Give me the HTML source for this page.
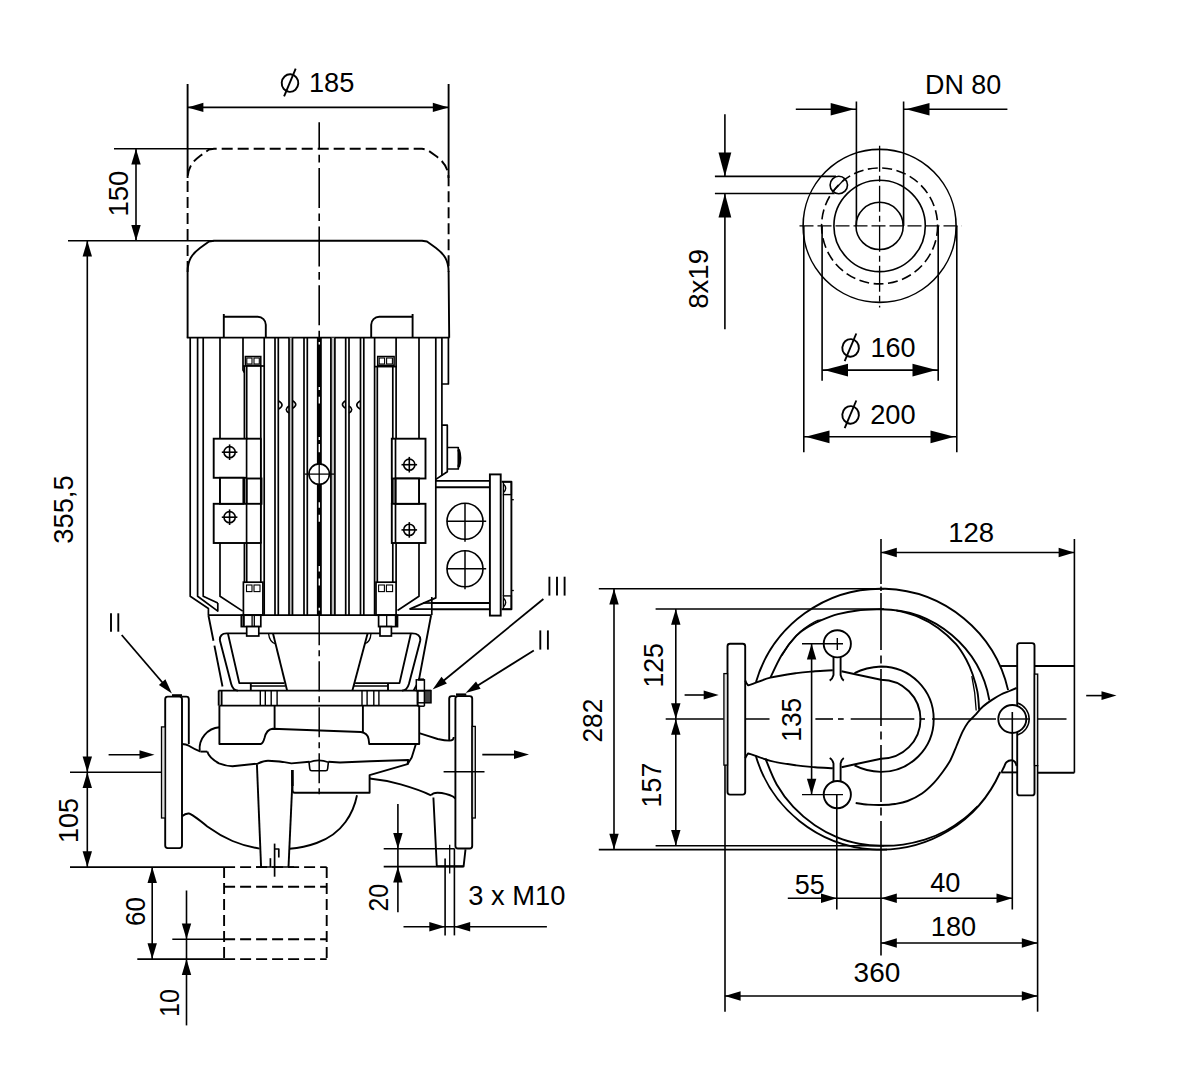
<!DOCTYPE html>
<html><head><meta charset="utf-8"><title>Pump dimension drawing</title>
<style>
html,body{margin:0;padding:0;background:#fff;}
body{width:1189px;height:1080px;overflow:hidden;}
svg{display:block;}
text{font-family:"Liberation Sans",sans-serif;fill:#000;}
</style></head><body>
<svg width="1189" height="1080" viewBox="0 0 1189 1080">
<rect width="1189" height="1080" fill="#fff"/>
<line x1="187.6" y1="84" x2="187.6" y2="178" stroke="#000" stroke-width="1.9"/>
<line x1="448.6" y1="84" x2="448.6" y2="178" stroke="#000" stroke-width="1.9"/>
<line x1="187.6" y1="107.4" x2="448.6" y2="107.4" stroke="#000" stroke-width="1.6"/>
<polygon points="187.6,107.4 203.4,102.7 203.4,112.1" fill="#000"/>
<polygon points="448.6,107.4 432.8,112.1 432.8,102.7" fill="#000"/>
<path d="M187.6 272 L187.6 180 C187.6 168 192 162 200 156 L209 149.6 L214 148.8 L422 148.8 L427 149.6 L436 156 C444 162 448.6 168 448.6 180 L448.6 272" fill="none" stroke="#000" stroke-width="1.9" stroke-linejoin="round" stroke-dasharray="11 5"/>
<line x1="114" y1="148.8" x2="212" y2="148.8" stroke="#000" stroke-width="1.6"/>
<line x1="68" y1="240.7" x2="214" y2="240.7" stroke="#000" stroke-width="1.6"/>
<line x1="136" y1="148.8" x2="136" y2="240.7" stroke="#000" stroke-width="1.6"/>
<polygon points="136,148.8 140.7,164.6 131.3,164.6" fill="#000"/>
<polygon points="136,240.7 131.3,224.9 140.7,224.9" fill="#000"/>
<path d="M187.6 337.7 L187.6 272 C187.6 260 192 254 200 248 L209 241.5 L214 240.7 L422 240.7 L427 241.5 L436 248 C444 254 448.6 260 448.6 272 L449.20000000000005 337.7" fill="none" stroke="#000" stroke-width="1.9" stroke-linejoin="round"/>
<line x1="186.8" y1="337.7" x2="449.4" y2="337.7" stroke="#000" stroke-width="1.8"/>
<path d="M223.8 337.7 L223.8 314 M223.8 316.8 L257.8 316.8 A8 8 0 0 1 265.8 324.8 L265.8 337.7" fill="none" stroke="#000" stroke-width="1.9" stroke-linejoin="round"/>
<path d="M412.6 337.7 L412.6 314 M412.6 316.8 L379.2 316.8 A8 8 0 0 0 371.2 324.8 L371.2 337.7" fill="none" stroke="#000" stroke-width="1.9" stroke-linejoin="round"/>
<line x1="87.3" y1="240.7" x2="87.3" y2="772.2" stroke="#000" stroke-width="1.6"/>
<polygon points="87.3,240.7 92,256.5 82.6,256.5" fill="#000"/>
<polygon points="87.3,772.2 82.6,756.4 92,756.4" fill="#000"/>
<line x1="70" y1="772.2" x2="161.9" y2="772.2" stroke="#000" stroke-width="1.6"/>
<line x1="87.3" y1="772.2" x2="87.3" y2="867.1" stroke="#000" stroke-width="1.6"/>
<polygon points="87.3,772.2 92,788 82.6,788" fill="#000"/>
<polygon points="87.3,867.1 82.6,851.3 92,851.3" fill="#000"/>
<line x1="70" y1="867.1" x2="224.1" y2="867.1" stroke="#000" stroke-width="1.6"/>
<rect x="289" y="337.7" width="3.5" height="277.50000000000006" fill="#bdbdbd"/>
<rect x="330.9" y="337.7" width="4" height="277.50000000000006" fill="#bdbdbd"/>
<line x1="275" y1="337.7" x2="275" y2="615.2" stroke="#000" stroke-width="1.7"/>
<line x1="278.3" y1="337.7" x2="278.3" y2="615.2" stroke="#000" stroke-width="1.7"/>
<line x1="289" y1="337.7" x2="289" y2="615.2" stroke="#000" stroke-width="1.7"/>
<line x1="292.5" y1="337.7" x2="292.5" y2="615.2" stroke="#000" stroke-width="1.7"/>
<line x1="304" y1="337.7" x2="304" y2="615.2" stroke="#000" stroke-width="1.7"/>
<line x1="307.3" y1="337.7" x2="307.3" y2="615.2" stroke="#000" stroke-width="1.7"/>
<line x1="330.9" y1="337.7" x2="330.9" y2="615.2" stroke="#000" stroke-width="1.7"/>
<line x1="334.9" y1="337.7" x2="334.9" y2="615.2" stroke="#000" stroke-width="1.7"/>
<line x1="345.7" y1="337.7" x2="345.7" y2="615.2" stroke="#000" stroke-width="1.7"/>
<line x1="349" y1="337.7" x2="349" y2="615.2" stroke="#000" stroke-width="1.7"/>
<line x1="360.5" y1="337.7" x2="360.5" y2="615.2" stroke="#000" stroke-width="1.7"/>
<line x1="363.8" y1="337.7" x2="363.8" y2="615.2" stroke="#000" stroke-width="1.7"/>
<rect x="316.9" y="337.7" width="4.9" height="277.50000000000006" fill="#000"/>
<line x1="319.3" y1="342" x2="319.3" y2="344.5" stroke="#fff" stroke-width="1.4"/>
<line x1="319.3" y1="387" x2="319.3" y2="390" stroke="#fff" stroke-width="1.4"/>
<line x1="319.3" y1="396.7" x2="319.3" y2="403.6" stroke="#fff" stroke-width="1.4"/>
<line x1="319.3" y1="437" x2="319.3" y2="440" stroke="#fff" stroke-width="1.4"/>
<line x1="319.3" y1="444" x2="319.3" y2="452.2" stroke="#fff" stroke-width="1.4"/>
<line x1="319.3" y1="502.2" x2="319.3" y2="507.8" stroke="#fff" stroke-width="1.4"/>
<line x1="319.3" y1="514.7" x2="319.3" y2="521.7" stroke="#fff" stroke-width="1.4"/>
<line x1="319.3" y1="566" x2="319.3" y2="571.6" stroke="#fff" stroke-width="1.4"/>
<line x1="319.3" y1="578.6" x2="319.3" y2="585.5" stroke="#fff" stroke-width="1.4"/>
<line x1="319.3" y1="607.8" x2="319.3" y2="610.5" stroke="#fff" stroke-width="1.4"/>
<path d="M278.3 400.8 q7.5 4.2 0 8.4" fill="none" stroke="#000" stroke-width="1.6" stroke-linejoin="round"/>
<path d="M292.5 400.8 q6.5 3.8 0 7.6" fill="none" stroke="#000" stroke-width="1.6" stroke-linejoin="round"/>
<path d="M289 406 q-5.5 3.6 0 7.2" fill="none" stroke="#000" stroke-width="1.6" stroke-linejoin="round"/>
<path d="M360.5 400.8 q-7.5 4.2 0 8.4" fill="none" stroke="#000" stroke-width="1.6" stroke-linejoin="round"/>
<path d="M345.7 400.8 q-6.5 3.8 0 7.6" fill="none" stroke="#000" stroke-width="1.6" stroke-linejoin="round"/>
<path d="M349 406 q5.5 3.6 0 7.2" fill="none" stroke="#000" stroke-width="1.6" stroke-linejoin="round"/>
<path d="M190.2 337.7 L190.2 596.3 L208.4 608.5 L208.4 615.2" fill="none" stroke="#000" stroke-width="1.7" stroke-linejoin="round"/>
<path d="M197.6 337.7 L197.6 596.3 L217.8 611.1 L217.8 603.1" fill="none" stroke="#000" stroke-width="1.7" stroke-linejoin="round"/>
<path d="M203.2 337.7 L203.2 596.3 L217.8 603.1" fill="none" stroke="#000" stroke-width="1.7" stroke-linejoin="round"/>
<path d="M220 337.7 L220 596.3 L242.7 611.1" fill="none" stroke="#000" stroke-width="1.7" stroke-linejoin="round"/>
<path d="M243 337.7 L243 370 L244.4 372.5" fill="none" stroke="#000" stroke-width="1.7" stroke-linejoin="round"/>
<line x1="244.4" y1="366" x2="244.4" y2="582.2" stroke="#000" stroke-width="1.7"/>
<line x1="246.7" y1="366" x2="246.7" y2="582.2" stroke="#000" stroke-width="1.7"/>
<line x1="260.8" y1="366" x2="260.8" y2="582.2" stroke="#000" stroke-width="1.7"/>
<line x1="264.2" y1="337.7" x2="264.2" y2="615.2" stroke="#000" stroke-width="1.7"/>
<line x1="243" y1="366" x2="264.2" y2="366" stroke="#000" stroke-width="1.7"/>
<rect x="245.4" y="356.5" width="15.4" height="8.8" rx="0" fill="#fff" stroke="#000" stroke-width="1.5"/>
<rect x="246.8" y="358" width="5.2" height="6" rx="0" fill="none" stroke="#000" stroke-width="1.1"/>
<rect x="254" y="358" width="5.3" height="6" rx="0" fill="none" stroke="#000" stroke-width="1.1"/>
<line x1="374.6" y1="337.7" x2="374.6" y2="615.2" stroke="#000" stroke-width="1.7"/>
<line x1="377.3" y1="366.6" x2="377.3" y2="582.2" stroke="#000" stroke-width="1.7"/>
<line x1="392.8" y1="366.6" x2="392.8" y2="582.2" stroke="#000" stroke-width="1.7"/>
<line x1="396.1" y1="337.7" x2="396.1" y2="582.2" stroke="#000" stroke-width="1.7"/>
<line x1="374.6" y1="366.6" x2="397" y2="366.6" stroke="#000" stroke-width="1.7"/>
<rect x="377.7" y="356.5" width="16.4" height="8.8" rx="0" fill="#fff" stroke="#000" stroke-width="1.5"/>
<rect x="379.2" y="358" width="5.4" height="6" rx="0" fill="none" stroke="#000" stroke-width="1.1"/>
<rect x="386.6" y="358" width="5.8" height="6" rx="0" fill="none" stroke="#000" stroke-width="1.1"/>
<path d="M419 337.7 L419 596.3 L397.5 610.5" fill="none" stroke="#000" stroke-width="1.7" stroke-linejoin="round"/>
<path d="M435.8 337.7 L435.8 597.9 L409.6 609.1" fill="none" stroke="#000" stroke-width="1.7" stroke-linejoin="round"/>
<line x1="441.9" y1="337.7" x2="441.9" y2="476" stroke="#000" stroke-width="1.7"/>
<path d="M448.4 337.7 L448.4 384 L441.9 384 M441.9 425.2 L447.3 425.2 L447.3 471.7 L435.8 479.4" fill="none" stroke="#000" stroke-width="1.7" stroke-linejoin="round"/>
<path d="M447.3 447.5 L458.3 447.5 L458.3 469 L447.3 469" fill="none" stroke="#000" stroke-width="1.7" stroke-linejoin="round"/>
<path d="M458.6 449.5 Q461.6 458 458.6 467" fill="none" stroke="#000" stroke-width="2.6" stroke-linejoin="round"/>
<rect x="213.7" y="438.7" width="33" height="39.1" rx="0" fill="#fff" stroke="#000" stroke-width="1.9"/>
<rect x="213.7" y="503.8" width="33" height="39.2" rx="0" fill="#fff" stroke="#000" stroke-width="1.9"/>
<rect x="220" y="477.8" width="23.4" height="26" rx="0" fill="#fff" stroke="#000" stroke-width="1.9"/>
<rect x="247.5" y="439.5" width="12.6" height="103" fill="#fff"/>
<line x1="246.7" y1="438.7" x2="261.5" y2="438.7" stroke="#000" stroke-width="1.9"/>
<line x1="246.7" y1="543" x2="261.5" y2="543" stroke="#000" stroke-width="1.9"/>
<rect x="246.7" y="478.5" width="14.8" height="25.3" rx="0" fill="none" stroke="#000" stroke-width="1.9"/>
<line x1="260.8" y1="438.7" x2="260.8" y2="543" stroke="#000" stroke-width="1.7"/>
<circle cx="229.6" cy="452.2" r="5.6" fill="none" stroke="#000" stroke-width="1.6"/>
<line x1="221.8" y1="452.2" x2="237.4" y2="452.2" stroke="#000" stroke-width="1.6"/>
<line x1="229.6" y1="444.4" x2="229.6" y2="460" stroke="#000" stroke-width="1.6"/>
<circle cx="229.6" cy="517.2" r="5.6" fill="none" stroke="#000" stroke-width="1.6"/>
<line x1="221.8" y1="517.2" x2="237.4" y2="517.2" stroke="#000" stroke-width="1.6"/>
<line x1="229.6" y1="509.4" x2="229.6" y2="525" stroke="#000" stroke-width="1.6"/>
<rect x="391.8" y="438.7" width="33.7" height="39.8" rx="0" fill="#fff" stroke="#000" stroke-width="1.9"/>
<rect x="391.8" y="503.8" width="33.7" height="39.2" rx="0" fill="#fff" stroke="#000" stroke-width="1.9"/>
<rect x="395.5" y="478.5" width="23.5" height="25.3" rx="0" fill="#fff" stroke="#000" stroke-width="1.9"/>
<line x1="395.5" y1="438.7" x2="395.5" y2="543" stroke="#000" stroke-width="1.7"/>
<line x1="391.8" y1="478.5" x2="391.8" y2="503.8" stroke="#000" stroke-width="1.7"/>
<circle cx="409.3" cy="464.7" r="5.6" fill="none" stroke="#000" stroke-width="1.6"/>
<line x1="401.5" y1="464.7" x2="417.1" y2="464.7" stroke="#000" stroke-width="1.6"/>
<line x1="409.3" y1="456.9" x2="409.3" y2="472.5" stroke="#000" stroke-width="1.6"/>
<circle cx="409.3" cy="529.9" r="5.6" fill="none" stroke="#000" stroke-width="1.6"/>
<line x1="401.5" y1="529.9" x2="417.1" y2="529.9" stroke="#000" stroke-width="1.6"/>
<line x1="409.3" y1="522.1" x2="409.3" y2="537.7" stroke="#000" stroke-width="1.6"/>
<circle cx="319.2" cy="474.1" r="10.2" fill="#fff" stroke="#000" stroke-width="1.6"/>
<line x1="304.6" y1="474.1" x2="334.2" y2="474.1" stroke="#000" stroke-width="1.3"/>
<line x1="319.2" y1="464" x2="319.2" y2="484" stroke="#000" stroke-width="1.3"/>
<line x1="435.8" y1="480.9" x2="489.9" y2="480.9" stroke="#000" stroke-width="1.9"/>
<line x1="435.8" y1="487.2" x2="489.9" y2="487.2" stroke="#000" stroke-width="1.9"/>
<line x1="431.6" y1="603" x2="489.9" y2="603" stroke="#000" stroke-width="1.9"/>
<line x1="431.6" y1="609.3" x2="489.9" y2="609.3" stroke="#000" stroke-width="1.9"/>
<rect x="489.9" y="474.4" width="10.8" height="141.2" rx="0" fill="#fff" stroke="#000" stroke-width="1.9"/>
<path d="M501.6 481.8 L511.4 481.8 L511.4 609.3 L501.6 609.3" fill="none" stroke="#000" stroke-width="1.9" stroke-linejoin="round"/>
<line x1="503.4" y1="494.6" x2="503.4" y2="595.9" stroke="#000" stroke-width="1.4"/>
<rect x="503.4" y="481.8" width="8" height="12.8" rx="0" fill="none" stroke="#000" stroke-width="1.4"/>
<rect x="503.4" y="595.9" width="8" height="13.4" rx="0" fill="none" stroke="#000" stroke-width="1.4"/>
<path d="M503.4 484 Q508 488 503.4 492.5" fill="none" stroke="#000" stroke-width="1.4" stroke-linejoin="round"/>
<path d="M503.4 598 Q508 602.5 503.4 607" fill="none" stroke="#000" stroke-width="1.4" stroke-linejoin="round"/>
<line x1="511.4" y1="499.7" x2="513.8" y2="499.7" stroke="#000" stroke-width="1.3"/>
<line x1="511.4" y1="590.5" x2="513.8" y2="590.5" stroke="#000" stroke-width="1.3"/>
<circle cx="465" cy="521.3" r="18" fill="none" stroke="#000" stroke-width="1.6"/>
<line x1="446.8" y1="521.3" x2="486.2" y2="521.3" stroke="#000" stroke-width="1.5"/>
<line x1="465" y1="503.3" x2="465" y2="541.8" stroke="#000" stroke-width="1.5"/>
<circle cx="465" cy="568.8" r="18" fill="none" stroke="#000" stroke-width="1.6"/>
<line x1="446.8" y1="568.8" x2="486.2" y2="568.8" stroke="#000" stroke-width="1.5"/>
<line x1="465" y1="550.8" x2="465" y2="589.3" stroke="#000" stroke-width="1.5"/>
<line x1="409.6" y1="609.1" x2="431.6" y2="609.1" stroke="#000" stroke-width="1.7"/>
<line x1="423" y1="603" x2="431.6" y2="603" stroke="#000" stroke-width="1.7"/>
<line x1="431.8" y1="597" x2="431.8" y2="615.2" stroke="#000" stroke-width="1.7"/>
<rect x="243.4" y="582.2" width="19.5" height="33" rx="0" fill="#fff" stroke="#000" stroke-width="1.7"/>
<rect x="246.5" y="585" width="5.5" height="6.6" rx="0" fill="none" stroke="#000" stroke-width="1.1"/>
<rect x="254" y="585" width="6" height="6.6" rx="0" fill="none" stroke="#000" stroke-width="1.1"/>
<rect x="376" y="582.2" width="20.1" height="33" rx="0" fill="#fff" stroke="#000" stroke-width="1.7"/>
<rect x="378.6" y="585" width="5.8" height="6.6" rx="0" fill="none" stroke="#000" stroke-width="1.1"/>
<rect x="386.4" y="585" width="6.2" height="6.6" rx="0" fill="none" stroke="#000" stroke-width="1.1"/>
<line x1="208.4" y1="615.2" x2="431.1" y2="615.2" stroke="#000" stroke-width="1.7"/>
<path d="M208.4 615.2 L222.5 686.5" fill="none" stroke="#000" stroke-width="1.9" stroke-linejoin="round" stroke-dasharray="26 5 50"/>
<path d="M431.1 615.2 L418.7 681.1 L413.6 690.6" fill="none" stroke="#000" stroke-width="1.9" stroke-linejoin="round"/>
<path d="M219.8 640 Q219.8 633.4 226.5 633.4 L412 633.4 Q420.4 633.4 420.4 640" fill="none" stroke="#000" stroke-width="1.9" stroke-linejoin="round"/>
<path d="M219.8 640 L231.2 684 Q233 690.6 238 690.6" fill="none" stroke="#000" stroke-width="1.9" stroke-linejoin="round"/>
<path d="M227.9 633.4 L239.3 683.1 L284.4 683.1" fill="none" stroke="#000" stroke-width="1.9" stroke-linejoin="round"/>
<path d="M273 633.4 L287.1 690.6" fill="none" stroke="#000" stroke-width="1.9" stroke-linejoin="round"/>
<path d="M268.5 633.4 Q269.5 642 275.5 644" fill="none" stroke="#000" stroke-width="1.3" stroke-linejoin="round"/>
<line x1="250.8" y1="683.1" x2="250.8" y2="690.6" stroke="#000" stroke-width="1.9"/>
<line x1="250.8" y1="686" x2="285" y2="686" stroke="#000" stroke-width="1.3"/>
<path d="M420.4 640 L408.9 684 Q407 690.6 402 690.6" fill="none" stroke="#000" stroke-width="1.9" stroke-linejoin="round"/>
<path d="M410.9 633.4 L399.5 683.1 L355.1 683.1" fill="none" stroke="#000" stroke-width="1.9" stroke-linejoin="round"/>
<path d="M367.6 633.4 L352.4 690.6" fill="none" stroke="#000" stroke-width="1.9" stroke-linejoin="round"/>
<path d="M371 633.4 Q370.5 642 364.5 644" fill="none" stroke="#000" stroke-width="1.3" stroke-linejoin="round"/>
<line x1="388" y1="683.1" x2="388" y2="690.6" stroke="#000" stroke-width="1.9"/>
<line x1="354" y1="686" x2="388" y2="686" stroke="#000" stroke-width="1.3"/>
<rect x="241.3" y="615.2" width="19.5" height="11.4" rx="0" fill="#fff" stroke="#000" stroke-width="1.7"/>
<line x1="243.6" y1="615.2" x2="243.6" y2="626.6" stroke="#000" stroke-width="2.4"/>
<line x1="252.1" y1="615.2" x2="252.1" y2="626.6" stroke="#000" stroke-width="1.3"/>
<line x1="254.3" y1="615.2" x2="254.3" y2="626.6" stroke="#000" stroke-width="1.3"/>
<rect x="246.7" y="626.6" width="12.1" height="9.4" rx="0" fill="#fff" stroke="#000" stroke-width="1.7"/>
<rect x="378.6" y="615.2" width="18.9" height="11.4" rx="0" fill="#fff" stroke="#000" stroke-width="1.7"/>
<line x1="396" y1="615.2" x2="396" y2="626.6" stroke="#000" stroke-width="2.4"/>
<line x1="386.7" y1="615.2" x2="386.7" y2="626.6" stroke="#000" stroke-width="1.3"/>
<rect x="380" y="626.6" width="11.4" height="9.4" rx="0" fill="#fff" stroke="#000" stroke-width="1.7"/>
<line x1="218.5" y1="690.6" x2="431.1" y2="690.6" stroke="#000" stroke-width="1.7"/>
<line x1="219.4" y1="705.7" x2="419.2" y2="705.7" stroke="#000" stroke-width="1.7"/>
<line x1="218.7" y1="690.6" x2="218.7" y2="705.7" stroke="#000" stroke-width="1.9"/>
<line x1="221.6" y1="690.6" x2="221.6" y2="705.7" stroke="#000" stroke-width="1.9"/>
<line x1="260.3" y1="690.6" x2="260.3" y2="705.7" stroke="#000" stroke-width="1.4"/>
<line x1="265.3" y1="690.6" x2="265.3" y2="705.7" stroke="#000" stroke-width="1.4"/>
<line x1="271.2" y1="690.6" x2="271.2" y2="705.7" stroke="#000" stroke-width="1.4"/>
<line x1="277.1" y1="690.6" x2="277.1" y2="705.7" stroke="#000" stroke-width="1.4"/>
<line x1="362" y1="690.6" x2="362" y2="705.7" stroke="#000" stroke-width="1.4"/>
<line x1="367.1" y1="690.6" x2="367.1" y2="705.7" stroke="#000" stroke-width="1.4"/>
<line x1="373.8" y1="690.6" x2="373.8" y2="705.7" stroke="#000" stroke-width="1.4"/>
<line x1="378.9" y1="690.6" x2="378.9" y2="705.7" stroke="#000" stroke-width="1.4"/>
<line x1="417.6" y1="690.6" x2="417.6" y2="705.7" stroke="#000" stroke-width="1.9"/>
<rect x="416.3" y="679.8" width="8.1" height="10.8" rx="0" fill="#fff" stroke="#000" stroke-width="1.5"/>
<line x1="418" y1="679.5" x2="424" y2="679.5" stroke="#000" stroke-width="2.2"/>
<rect x="424.4" y="690.6" width="6.6" height="12.2" fill="#444"/>
<rect x="417.6" y="690.6" width="13.4" height="12.2" rx="0" fill="none" stroke="#000" stroke-width="1.5"/>
<line x1="424.4" y1="690.6" x2="424.4" y2="706.2" stroke="#000" stroke-width="1.5"/>
<line x1="417.6" y1="706.2" x2="424.4" y2="706.2" stroke="#000" stroke-width="1.5"/>
<path d="M219.4 705.7 L219.4 744 L260.8 744 Q263 743.5 264.5 738 Q266.5 729.5 272.5 728.8 L361 732 Q367.5 733 368.6 739 L369.2 744 L419.2 744 L419.2 705.7" fill="none" stroke="#000" stroke-width="1.9" stroke-linejoin="round"/>
<line x1="274.6" y1="705.7" x2="274.6" y2="729" stroke="#000" stroke-width="1.9"/>
<line x1="362.9" y1="705.7" x2="362.9" y2="732.2" stroke="#000" stroke-width="1.9"/>
<rect x="165.2" y="696.6" width="16.8" height="151.5" rx="2.5" fill="#fff" stroke="#000" stroke-width="1.9"/>
<path d="M182 696.6 L186.3 696.6 Q188.8 696.6 188.8 699 L188.8 744" fill="none" stroke="#000" stroke-width="1.9" stroke-linejoin="round"/>
<rect x="161.5" y="726.9" width="3.7" height="91.1" rx="0" fill="#ddd" stroke="#000" stroke-width="1.3"/>
<line x1="172" y1="695.4" x2="182" y2="695.4" stroke="#000" stroke-width="2.4"/>
<path d="M182 744 Q186 744.3 188.8 745.7 Q195 749.5 200.6 751.6" fill="none" stroke="#000" stroke-width="1.9" stroke-linejoin="round"/>
<line x1="200.6" y1="751.6" x2="207.3" y2="751.6" stroke="#000" stroke-width="1.9"/>
<path d="M207.3 751.6 Q209 758 219 763.4 Q226 766.2 232.5 766.2 L257.7 763.6 Q264 760.8 268 760.8 Q280 761 291.4 763.4 L309.5 761.7" fill="none" stroke="#000" stroke-width="1.9" stroke-linejoin="round"/>
<path d="M219.4 727.2 A21.5 21.5 0 0 0 199.7 750.7" fill="none" stroke="#000" stroke-width="1.9" stroke-linejoin="round"/>
<path d="M309 762.2 Q318.7 758.6 328.4 762.2 L327.6 769 Q327.4 770.8 325.6 770.8 L311.8 770.8 Q310 770.8 309.8 769 Z" fill="#fff" stroke="#000" stroke-width="1.6" stroke-linejoin="round"/>
<path d="M328.4 761.7 L340 762.5 L370 761.2 L408.3 760 L407.5 764.2 L369.6 775.1 L369.6 792.8 L294.8 792.8 Q292.5 792.8 292.5 790 L292.2 770" fill="none" stroke="#000" stroke-width="1.9" stroke-linejoin="round"/>
<line x1="292.4" y1="770" x2="292.4" y2="786" stroke="#000" stroke-width="2.6"/>
<path d="M415.9 744 L411.7 757.5 L407.5 764.2" fill="none" stroke="#000" stroke-width="1.9" stroke-linejoin="round"/>
<path d="M369.6 778.5 Q385 780 400.7 784.4 Q420 790 431 795.3" fill="none" stroke="#000" stroke-width="1.9" stroke-linejoin="round"/>
<path d="M419.2 733.1 Q430 736.5 437.7 739 Q445 740.6 449.5 740.6 Q453.7 740.6 453.7 737" fill="none" stroke="#000" stroke-width="1.9" stroke-linejoin="round"/>
<path d="M182 816.3 Q185.5 813.2 188.8 813.5 Q192 814 207.3 826.4 Q220 835.5 232.5 841 Q245 846.3 259.6 848.6" fill="none" stroke="#000" stroke-width="1.9" stroke-linejoin="round"/>
<path d="M289.6 848.8 Q304 847.6 316.6 843 Q335 836.5 345.5 822 Q354 810.5 357 795.3" fill="none" stroke="#000" stroke-width="1.9" stroke-linejoin="round"/>
<path d="M256.9 764.2 L261.1 867.1" fill="none" stroke="#000" stroke-width="1.9" stroke-linejoin="round"/>
<path d="M292.2 786 L288.5 867.1" fill="none" stroke="#000" stroke-width="1.9" stroke-linejoin="round"/>
<line x1="274.6" y1="843.6" x2="274.6" y2="876.7" stroke="#000" stroke-width="1.7"/>
<path d="M274.6 849 L278.8 849 L278.8 857.4" fill="none" stroke="#000" stroke-width="1.7" stroke-linejoin="round"/>
<line x1="270.4" y1="858.2" x2="270.4" y2="867.1" stroke="#000" stroke-width="1.7"/>
<line x1="256" y1="867.1" x2="294" y2="867.1" stroke="#000" stroke-width="1.5"/>
<line x1="319.2" y1="122.2" x2="319.2" y2="337" stroke="#000" stroke-width="1.6" stroke-dasharray="40 5.5 7.7 5.5" stroke-dashoffset="13"/>
<line x1="319.2" y1="615.2" x2="319.2" y2="798" stroke="#000" stroke-width="1.5" stroke-dasharray="30 5 6 5"/>
<rect x="455.4" y="696.1" width="16.8" height="152.4" rx="2.5" fill="#fff" stroke="#000" stroke-width="1.9"/>
<path d="M455.4 696.1 L451.7 696.1 Q449.2 696.1 449.2 698.6 L449.2 740" fill="none" stroke="#000" stroke-width="1.9" stroke-linejoin="round"/>
<rect x="472.2" y="726.4" width="3.1" height="91.6" rx="0" fill="#ddd" stroke="#000" stroke-width="1.3"/>
<line x1="456" y1="694.6" x2="466.3" y2="694.6" stroke="#000" stroke-width="2.4"/>
<line x1="443.6" y1="771.8" x2="484.5" y2="771.8" stroke="#000" stroke-width="1.6"/>
<path d="M431 795.3 Q433 792.6 437.7 792.7 Q446 793 453 796.5 L455.4 798.5" fill="none" stroke="#000" stroke-width="1.9" stroke-linejoin="round"/>
<path d="M433.4 797.5 L436.8 866.3 L463.6 866.3 L465.5 849.4" fill="none" stroke="#000" stroke-width="1.9" stroke-linejoin="round"/>
<line x1="108.6" y1="754.7" x2="142" y2="754.7" stroke="#000" stroke-width="1.6"/>
<polygon points="154.5,754.7 139.5,759.1 139.5,750.3" fill="#000"/>
<line x1="482.3" y1="754.6" x2="516" y2="754.6" stroke="#000" stroke-width="1.6"/>
<polygon points="529,754.6 514,759 514,750.2" fill="#000"/>
<line x1="224.1" y1="867.1" x2="326.7" y2="867.1" stroke="#000" stroke-width="1.9" stroke-dasharray="11 5"/>
<line x1="224.1" y1="867.1" x2="224.1" y2="959.1" stroke="#000" stroke-width="1.9" stroke-dasharray="11 5"/>
<line x1="326.7" y1="867.1" x2="326.7" y2="959.1" stroke="#000" stroke-width="1.9" stroke-dasharray="11 5"/>
<line x1="224.1" y1="886.8" x2="326.7" y2="886.8" stroke="#000" stroke-width="1.9" stroke-dasharray="11 5"/>
<line x1="224.1" y1="939.2" x2="326.7" y2="939.2" stroke="#000" stroke-width="1.9" stroke-dasharray="11 5"/>
<line x1="224.1" y1="959.1" x2="326.7" y2="959.1" stroke="#000" stroke-width="1.9" stroke-dasharray="11 5"/>
<line x1="152.2" y1="867.1" x2="152.2" y2="959.1" stroke="#000" stroke-width="1.6"/>
<polygon points="152.2,867.1 156.9,882.9 147.5,882.9" fill="#000"/>
<polygon points="152.2,959.1 147.5,943.3 156.9,943.3" fill="#000"/>
<line x1="137.3" y1="959.1" x2="224.1" y2="959.1" stroke="#000" stroke-width="1.6"/>
<line x1="172.3" y1="939.2" x2="224.1" y2="939.2" stroke="#000" stroke-width="1.6"/>
<line x1="186.5" y1="890.5" x2="186.5" y2="1025.4" stroke="#000" stroke-width="1.6"/>
<polygon points="186.5,939.2 181.8,923.4 191.2,923.4" fill="#000"/>
<polygon points="186.5,959.1 191.2,974.9 181.8,974.9" fill="#000"/>
<line x1="383.7" y1="848.8" x2="454.4" y2="848.8" stroke="#000" stroke-width="1.6"/>
<line x1="383.7" y1="866.6" x2="463.6" y2="866.6" stroke="#000" stroke-width="1.6"/>
<line x1="397.9" y1="804" x2="397.9" y2="912.3" stroke="#000" stroke-width="1.6"/>
<polygon points="397.9,848.8 393.2,833 402.6,833" fill="#000"/>
<polygon points="397.9,866.6 402.6,882.4 393.2,882.4" fill="#000"/>
<line x1="445.1" y1="858.6" x2="445.1" y2="935.4" stroke="#000" stroke-width="1.6"/>
<line x1="454.4" y1="848.5" x2="454.4" y2="935.4" stroke="#000" stroke-width="1.6"/>
<line x1="449.7" y1="844.8" x2="449.7" y2="873.4" stroke="#000" stroke-width="1.3"/>
<line x1="403.5" y1="926.7" x2="546.9" y2="926.7" stroke="#000" stroke-width="1.6"/>
<polygon points="445.1,926.7 429.3,931.4 429.3,922" fill="#000"/>
<polygon points="454.4,926.7 470.2,922 470.2,931.4" fill="#000"/>
<line x1="111" y1="613.3" x2="111" y2="631.7" stroke="#000" stroke-width="1.9"/>
<line x1="118.3" y1="613.3" x2="118.3" y2="631.7" stroke="#000" stroke-width="1.9"/>
<line x1="121.7" y1="635" x2="168" y2="689" stroke="#000" stroke-width="1.8"/>
<polygon points="171.9,693.5 158.9,684.9 165.4,679.3" fill="#000"/>
<line x1="549.4" y1="576.7" x2="549.4" y2="595.6" stroke="#000" stroke-width="1.9"/>
<line x1="557" y1="576.7" x2="557" y2="595.6" stroke="#000" stroke-width="1.9"/>
<line x1="564.6" y1="576.7" x2="564.6" y2="595.6" stroke="#000" stroke-width="1.9"/>
<line x1="543.4" y1="599" x2="438" y2="685.2" stroke="#000" stroke-width="1.8"/>
<polygon points="432.6,689.6 441.5,676.8 446.9,683.4" fill="#000"/>
<line x1="540.3" y1="630.4" x2="540.3" y2="649.6" stroke="#000" stroke-width="1.9"/>
<line x1="547.9" y1="630.4" x2="547.9" y2="649.6" stroke="#000" stroke-width="1.9"/>
<line x1="533.8" y1="650.5" x2="471" y2="689.8" stroke="#000" stroke-width="1.8"/>
<polygon points="465.6,693 476,681.4 480.6,688.7" fill="#000"/>
<circle cx="879.6" cy="225.9" r="76.5" fill="none" stroke="#000" stroke-width="1.6"/>
<circle cx="879.6" cy="225.9" r="58" fill="none" stroke="#000" stroke-width="1.6" stroke-dasharray="10 4.5"/>
<circle cx="879.6" cy="225.9" r="45.7" fill="none" stroke="#000" stroke-width="1.6"/>
<circle cx="879.6" cy="225.9" r="23.6" fill="none" stroke="#000" stroke-width="1.6"/>
<circle cx="838.8" cy="185" r="8.7" fill="none" stroke="#000" stroke-width="1.6"/>
<line x1="833" y1="191.5" x2="845" y2="178.5" stroke="#000" stroke-width="1.2"/>
<line x1="799.5" y1="225.9" x2="961.7" y2="225.9" stroke="#000" stroke-width="1.3" stroke-dasharray="14 4"/>
<line x1="879.6" y1="145.8" x2="879.6" y2="307.4" stroke="#000" stroke-width="1.3" stroke-dasharray="26 4 6 4"/>
<line x1="856.4" y1="101.5" x2="856.4" y2="225.9" stroke="#000" stroke-width="1.6"/>
<line x1="903.6" y1="101.5" x2="903.6" y2="225.9" stroke="#000" stroke-width="1.6"/>
<line x1="795.8" y1="109.2" x2="856.4" y2="109.2" stroke="#000" stroke-width="1.6"/>
<line x1="903.6" y1="109.2" x2="1007.4" y2="109.2" stroke="#000" stroke-width="1.6"/>
<polygon points="854.2,109.2 830.7,115.5 830.7,102.9" fill="#000"/>
<polygon points="906,109.2 929.5,102.9 929.5,115.5" fill="#000"/>
<line x1="714.9" y1="176.4" x2="836" y2="176.4" stroke="#000" stroke-width="1.6"/>
<line x1="714.9" y1="193.5" x2="834.6" y2="193.5" stroke="#000" stroke-width="1.6"/>
<line x1="724.9" y1="114.3" x2="724.9" y2="176.4" stroke="#000" stroke-width="1.6"/>
<line x1="724.9" y1="193.5" x2="724.9" y2="329.2" stroke="#000" stroke-width="1.6"/>
<polygon points="724.9,176.4 718.5,152.4 731.3,152.4" fill="#000"/>
<polygon points="724.9,193.5 731.3,217.5 718.5,217.5" fill="#000"/>
<line x1="822.1" y1="225.9" x2="822.1" y2="380.7" stroke="#000" stroke-width="1.6"/>
<line x1="938.2" y1="225.9" x2="938.2" y2="380.7" stroke="#000" stroke-width="1.6"/>
<line x1="803.8" y1="225.9" x2="803.8" y2="452.2" stroke="#000" stroke-width="1.6"/>
<line x1="956.8" y1="225.9" x2="956.8" y2="452.2" stroke="#000" stroke-width="1.6"/>
<line x1="822.1" y1="370.1" x2="938.2" y2="370.1" stroke="#000" stroke-width="1.6"/>
<polygon points="824,370.1 848,363.7 848,376.5" fill="#000"/>
<polygon points="936.5,370.1 912.5,376.5 912.5,363.7" fill="#000"/>
<line x1="803.8" y1="436.8" x2="956.8" y2="436.8" stroke="#000" stroke-width="1.6"/>
<polygon points="805.5,436.8 829.5,430.4 829.5,443.2" fill="#000"/>
<polygon points="954.5,436.8 930.5,443.2 930.5,430.4" fill="#000"/>
<line x1="598.8" y1="588.8" x2="884" y2="588.8" stroke="#000" stroke-width="1.6"/>
<line x1="655.6" y1="609" x2="884" y2="609" stroke="#000" stroke-width="1.6"/>
<line x1="655.6" y1="845.8" x2="884" y2="845.8" stroke="#000" stroke-width="1.6"/>
<line x1="598.8" y1="849.6" x2="887" y2="849.6" stroke="#000" stroke-width="1.6"/>
<line x1="614" y1="588.8" x2="614" y2="849.6" stroke="#000" stroke-width="1.6"/>
<polygon points="614,588.8 618.7,604.6 609.3,604.6" fill="#000"/>
<polygon points="614,849.6 609.3,833.8 618.7,833.8" fill="#000"/>
<line x1="675.8" y1="609" x2="675.8" y2="719" stroke="#000" stroke-width="1.6"/>
<polygon points="675.8,609 680.5,624.8 671.1,624.8" fill="#000"/>
<polygon points="675.8,719 671.1,703.2 680.5,703.2" fill="#000"/>
<line x1="675.8" y1="719" x2="675.8" y2="845.8" stroke="#000" stroke-width="1.6"/>
<polygon points="675.8,719 680.5,734.8 671.1,734.8" fill="#000"/>
<polygon points="675.8,845.8 671.1,830 680.5,830" fill="#000"/>
<line x1="665.7" y1="719" x2="723.7" y2="719" stroke="#000" stroke-width="1.6"/>
<line x1="881" y1="539" x2="881" y2="584" stroke="#000" stroke-width="1.6"/>
<line x1="881" y1="586.5" x2="881" y2="591" stroke="#000" stroke-width="1.6"/>
<line x1="881" y1="593" x2="881" y2="872" stroke="#000" stroke-width="1.6" stroke-dasharray="57 5.5 8 5.5"/>
<line x1="881" y1="872" x2="881" y2="955.6" stroke="#000" stroke-width="1.6"/>
<line x1="1074.4" y1="539" x2="1074.4" y2="772.7" stroke="#000" stroke-width="1.6"/>
<line x1="881" y1="552.5" x2="1074.4" y2="552.5" stroke="#000" stroke-width="1.6"/>
<polygon points="881,552.5 896.8,547.8 896.8,557.2" fill="#000"/>
<polygon points="1074.4,552.5 1058.6,557.2 1058.6,547.8" fill="#000"/>
<line x1="730.6" y1="719" x2="769.5" y2="719" stroke="#000" stroke-width="1.6"/>
<line x1="815.4" y1="719" x2="833" y2="719" stroke="#000" stroke-width="1.6"/>
<line x1="838" y1="719" x2="843.7" y2="719" stroke="#000" stroke-width="1.6"/>
<line x1="850.7" y1="719" x2="914.3" y2="719" stroke="#000" stroke-width="1.6"/>
<line x1="919.6" y1="719" x2="925" y2="719" stroke="#000" stroke-width="1.6"/>
<line x1="932" y1="719" x2="996" y2="719" stroke="#000" stroke-width="1.6"/>
<line x1="1034" y1="719" x2="1066.5" y2="719" stroke="#000" stroke-width="1.6"/>
<rect x="727.5" y="643.8" width="17.7" height="150.8" rx="2.5" fill="#fff" stroke="#000" stroke-width="1.9"/>
<rect x="723.9" y="673.6" width="3.6" height="91.5" rx="0" fill="#ddd" stroke="#000" stroke-width="1.3"/>
<line x1="725" y1="765" x2="725" y2="1011.7" stroke="#000" stroke-width="1.6"/>
<rect x="1017.2" y="643.1" width="17.3" height="152.3" rx="2.5" fill="#fff" stroke="#000" stroke-width="1.9"/>
<rect x="1034.5" y="674.1" width="3.2" height="91.5" rx="0" fill="#ddd" stroke="#000" stroke-width="1.3"/>
<line x1="1037.6" y1="765" x2="1037.6" y2="1011.7" stroke="#000" stroke-width="1.6"/>
<line x1="1000.4" y1="666" x2="1017.2" y2="666" stroke="#000" stroke-width="1.9"/>
<line x1="1034.5" y1="666" x2="1074.4" y2="666" stroke="#000" stroke-width="1.9"/>
<line x1="1037.6" y1="772.7" x2="1074.4" y2="772.7" stroke="#000" stroke-width="1.9"/>
<line x1="684.6" y1="695" x2="706" y2="695" stroke="#000" stroke-width="1.6"/>
<polygon points="718.7,695 703.7,699.4 703.7,690.6" fill="#000"/>
<line x1="1086.2" y1="695.6" x2="1104" y2="695.6" stroke="#000" stroke-width="1.6"/>
<polygon points="1116.5,695.6 1101.5,700 1101.5,691.2" fill="#000"/>
<path d="M756 681.9 A130.4 130.4 0 0 1 1008.1 690.1" fill="none" stroke="#000" stroke-width="1.9" stroke-linejoin="round"/>
<path d="M755.8 755.8 A130.4 130.4 0 0 0 1000.2 772" fill="none" stroke="#000" stroke-width="1.9" stroke-linejoin="round"/>
<path d="M881 609.2 A110 110 0 0 1 989.4 700.3" fill="none" stroke="#000" stroke-width="1.9" stroke-linejoin="round"/>
<path d="M770.4 677.7 C772.3 673.8 777.7 661.5 782 654.5 C786.3 647.5 792.1 640.3 796.4 635.7 C800.7 631.1 803.9 629.5 808 627 C812.1 624.5 815.9 622.5 820.9 620.4 C825.9 618.3 831.9 615.9 838 614.2 C844.1 612.6 850.3 611.3 857.5 610.5 C864.7 609.7 877.1 609.4 881 609.2" fill="none" stroke="#000" stroke-width="1.9" stroke-linejoin="round"/>
<path d="M765.4 758.5 C767.3 762.9 772 776.3 776.7 784.4 C781.3 792.4 787 800.1 793.3 806.9 C799.7 813.7 807.3 820.1 814.8 825.2 C822.2 830.3 830.5 834.5 837.9 837.6 C845.3 840.7 851.9 842.3 859.1 843.7 C866.2 845 873.7 845.7 881 845.8 C888.3 845.9 895.8 845.6 903.1 844.6 C910.4 843.5 917.8 841.9 924.8 839.7 C931.9 837.4 939 834.5 945.5 831 C952.1 827.5 959.1 822.7 964.4 818.6 C969.8 814.5 975.5 808.4 977.8 806.3" fill="none" stroke="#000" stroke-width="1.9" stroke-linejoin="round"/>
<path d="M896.3 610.3 C900 611.4 911.3 613.8 918.3 616.8 C925.2 619.7 931.8 623.3 938.1 627.9 C944.4 632.4 951.3 639 956 644.2 C960.6 649.5 963.4 654.5 966.2 659.5 C969 664.6 970.8 669.2 972.7 674.5 C974.5 679.8 976.3 685.7 977.4 691.6 C978.5 697.4 978.9 706.7 979.1 709.7" fill="none" stroke="#000" stroke-width="1.9" stroke-linejoin="round"/>
<path d="M971.8 676 Q975.5 693 976.2 710.5" fill="none" stroke="#000" stroke-width="1.3" stroke-linejoin="round"/>
<path d="M781.9 655.6 C783.2 653.5 787 646.9 790 643 C793 639.1 796.7 635.1 800 632 C803.3 628.9 807 626.4 810 624.5 C813 622.6 815.9 621.1 817.8 620.4 C819.7 619.7 820.9 620.3 821.5 620.3" fill="none" stroke="#000" stroke-width="1.4" stroke-linejoin="round"/>
<path d="M745.2 680.5 C745.6 681.2 746.6 683.8 747.5 684.5 C748.4 685.2 746.8 685.7 750.6 684.6 C754.4 683.5 762.8 679.6 770.4 677.7 C778 675.8 789 674.2 796.4 673.1 C803.8 672 808.9 671.8 815 671.3 C821.1 670.8 829.8 670.5 832.8 670.3" fill="none" stroke="#000" stroke-width="1.9" stroke-linejoin="round"/>
<path d="M745.2 758.2 C745.6 757.5 746.6 754.9 747.5 754.2 C748.4 753.5 746.8 753 750.6 754.1 C754.4 755.2 762.8 758.9 770.4 760.8 C778 762.7 789 764.3 796.4 765.4 C803.8 766.5 808.9 766.7 815 767.2 C821.1 767.7 829.8 768 832.8 768.2" fill="none" stroke="#000" stroke-width="1.9" stroke-linejoin="round"/>
<path d="M854.5 673.1 Q866 667.3 881 666.5 A52.7 52.7 0 0 1 881 771.9 Q866 771.3 854.5 765.4" fill="none" stroke="#000" stroke-width="1.9" stroke-linejoin="round"/>
<path d="M841.5 671.3 L857.5 674.7 L881 679.7 A39.5 39.5 0 0 1 881 758.7 L857.5 763.8 L841.5 767.2" fill="none" stroke="#000" stroke-width="1.9" stroke-linejoin="round"/>
<path d="M855.7 803 C857.8 803.3 863.8 804.3 868 804.6 C872.2 804.9 876.5 805.1 881 805 C885.5 804.9 890.6 804.7 895 804 C899.4 803.3 903.1 802.8 907.6 801 C912.1 799.2 917.6 796.6 922 793.5 C926.4 790.4 930.6 786.3 934.1 782.6 C937.6 778.9 940.3 775.2 943 771.5 C945.7 767.8 948.1 764.5 950.4 760.2 C952.6 756 954.5 750.8 956.5 746 C958.5 741.2 960.7 735.6 962.6 731.7 C964.5 727.8 966 725.2 968 722.5 C970 719.8 972.3 718.1 974.8 715.4 C977.3 712.7 979.9 709.2 983 706.5 C986.1 703.8 990.2 701.1 993.2 699.1 C996.2 697.1 998.3 695.9 1001 694.5 C1003.7 693.1 1006.9 692.1 1009.5 691 C1012.1 689.9 1015.4 688.5 1016.6 688" fill="none" stroke="#000" stroke-width="1.9" stroke-linejoin="round"/>
<path d="M1001.3 772.4 C1001.8 771.5 1003.1 768.7 1004 767 C1004.9 765.3 1005.1 763.3 1006.4 762.2 C1007.6 761.1 1010.1 760.2 1011.5 760.2 C1012.9 760.2 1014.1 761 1015 762 C1015.9 763 1016.3 765.3 1016.6 766" fill="none" stroke="#000" stroke-width="1.9" stroke-linejoin="round"/>
<line x1="1001.3" y1="772.4" x2="1017.2" y2="772.4" stroke="#000" stroke-width="1.9"/>
<circle cx="837.3" cy="643.8" r="13.6" fill="#fff" stroke="#000" stroke-width="1.9"/>
<line x1="802" y1="643.8" x2="843" y2="643.8" stroke="#000" stroke-width="1.4"/>
<line x1="837.3" y1="638" x2="837.3" y2="650" stroke="#000" stroke-width="1.4"/>
<path d="M833.5 657 L833.5 675 Q832.5 679 829.7 680.6" fill="none" stroke="#000" stroke-width="1.9" stroke-linejoin="round"/>
<path d="M840.6 657 L840.6 675 Q841.5 679 843.8 680.6" fill="none" stroke="#000" stroke-width="1.9" stroke-linejoin="round"/>
<circle cx="837.3" cy="794.6" r="13.6" fill="#fff" stroke="#000" stroke-width="1.9"/>
<line x1="802" y1="794.6" x2="843" y2="794.6" stroke="#000" stroke-width="1.4"/>
<path d="M833.5 781.5 L833.5 763.5 Q832.5 759.5 829.7 758" fill="none" stroke="#000" stroke-width="1.9" stroke-linejoin="round"/>
<path d="M840.6 781.5 L840.6 763.5 Q841.5 759.5 843.8 758" fill="none" stroke="#000" stroke-width="1.9" stroke-linejoin="round"/>
<path d="M1017.5 703 A16.8 16.8 0 0 1 1017.5 735" fill="none" stroke="#000" stroke-width="1.5" stroke-linejoin="round"/>
<circle cx="1012.3" cy="719" r="14" fill="#fff" stroke="#000" stroke-width="1.9"/>
<line x1="1000" y1="719" x2="1030" y2="719" stroke="#000" stroke-width="1.4"/>
<line x1="1012.3" y1="712" x2="1012.3" y2="909.5" stroke="#000" stroke-width="1.6"/>
<line x1="811.6" y1="643.8" x2="811.6" y2="794.6" stroke="#000" stroke-width="1.6"/>
<polygon points="811.6,643.8 816.3,659.6 806.9,659.6" fill="#000"/>
<polygon points="811.6,794.6 806.9,778.8 816.3,778.8" fill="#000"/>
<rect x="779" y="694" width="24" height="51" fill="#fff"/>
<line x1="836.8" y1="794.6" x2="836.8" y2="909.5" stroke="#000" stroke-width="1.6"/>
<line x1="787.8" y1="898.3" x2="1012.3" y2="898.3" stroke="#000" stroke-width="1.6"/>
<polygon points="836.8,898.3 821,903 821,893.6" fill="#000"/>
<polygon points="881,898.3 896.8,893.6 896.8,903" fill="#000"/>
<polygon points="1012.3,898.3 996.5,903 996.5,893.6" fill="#000"/>
<line x1="881" y1="943" x2="1037.6" y2="943" stroke="#000" stroke-width="1.6"/>
<polygon points="881,943 896.8,938.3 896.8,947.7" fill="#000"/>
<polygon points="1037.6,943 1021.8,947.7 1021.8,938.3" fill="#000"/>
<line x1="724.8" y1="996" x2="1037.6" y2="996" stroke="#000" stroke-width="1.6"/>
<polygon points="724.8,996 740.6,991.3 740.6,1000.7" fill="#000"/>
<polygon points="1037.6,996 1021.8,1000.7 1021.8,991.3" fill="#000"/>
<ellipse cx="290" cy="83.1" rx="8.3" ry="8.8" fill="none" stroke="#000" stroke-width="1.9" transform="rotate(4 290 83.1)"/>
<line x1="284.1" y1="96.4" x2="295.7" y2="68.7" stroke="#000" stroke-width="1.9"/>
<text x="308.9" y="92.4" font-size="27" textLength="45.4" lengthAdjust="spacingAndGlyphs">185</text>
<text x="925" y="94" font-size="27" textLength="76.2" lengthAdjust="spacingAndGlyphs">DN 80</text>
<ellipse cx="850.6" cy="347.9" rx="8.3" ry="8.8" fill="none" stroke="#000" stroke-width="1.9" transform="rotate(4 850.6 347.9)"/>
<line x1="844.7" y1="361.2" x2="856.3" y2="333.5" stroke="#000" stroke-width="1.9"/>
<text x="870.6" y="357.2" font-size="27" textLength="45" lengthAdjust="spacingAndGlyphs">160</text>
<ellipse cx="850.6" cy="414.9" rx="8.3" ry="8.8" fill="none" stroke="#000" stroke-width="1.9" transform="rotate(4 850.6 414.9)"/>
<line x1="844.7" y1="428.2" x2="856.3" y2="400.5" stroke="#000" stroke-width="1.9"/>
<text x="870.2" y="424.2" font-size="27" textLength="45.4" lengthAdjust="spacingAndGlyphs">200</text>
<text x="948.2" y="542.4" font-size="27" textLength="46" lengthAdjust="spacingAndGlyphs">128</text>
<text x="794.8" y="893.7" font-size="27" textLength="30" lengthAdjust="spacingAndGlyphs">55</text>
<text x="930.2" y="892.4" font-size="27" textLength="30.2" lengthAdjust="spacingAndGlyphs">40</text>
<text x="930.8" y="935.5" font-size="27" textLength="45.3" lengthAdjust="spacingAndGlyphs">180</text>
<text x="853.6" y="982.1" font-size="27" textLength="46.7" lengthAdjust="spacingAndGlyphs">360</text>
<text x="468.2" y="905.2" font-size="27" textLength="97.2" lengthAdjust="spacingAndGlyphs">3 x M10</text>
<text transform="translate(128.3 216.6) rotate(-90)" font-size="27" textLength="45.9" lengthAdjust="spacingAndGlyphs">150</text>
<text transform="translate(72.6 543.8) rotate(-90)" font-size="27" textLength="68.5" lengthAdjust="spacingAndGlyphs">355,5</text>
<text transform="translate(78 843) rotate(-90)" font-size="27" textLength="45" lengthAdjust="spacingAndGlyphs">105</text>
<text transform="translate(145.1 926) rotate(-90)" font-size="27" textLength="28.8" lengthAdjust="spacingAndGlyphs">60</text>
<text transform="translate(179.1 1017) rotate(-90)" font-size="27" textLength="28.1" lengthAdjust="spacingAndGlyphs">10</text>
<text transform="translate(388.1 911.6) rotate(-90)" font-size="27" textLength="27.7" lengthAdjust="spacingAndGlyphs">20</text>
<text transform="translate(708 308.7) rotate(-90)" font-size="27" textLength="59.7" lengthAdjust="spacingAndGlyphs">8x19</text>
<text transform="translate(601.7 742.6) rotate(-90)" font-size="27" textLength="43.9" lengthAdjust="spacingAndGlyphs">282</text>
<text transform="translate(663.1 687.6) rotate(-90)" font-size="27" textLength="44.5" lengthAdjust="spacingAndGlyphs">125</text>
<text transform="translate(660.9 807.4) rotate(-90)" font-size="27" textLength="44.8" lengthAdjust="spacingAndGlyphs">157</text>
<text transform="translate(800.8 741.8) rotate(-90)" font-size="27" textLength="44.1" lengthAdjust="spacingAndGlyphs">135</text>
</svg>
</body></html>
